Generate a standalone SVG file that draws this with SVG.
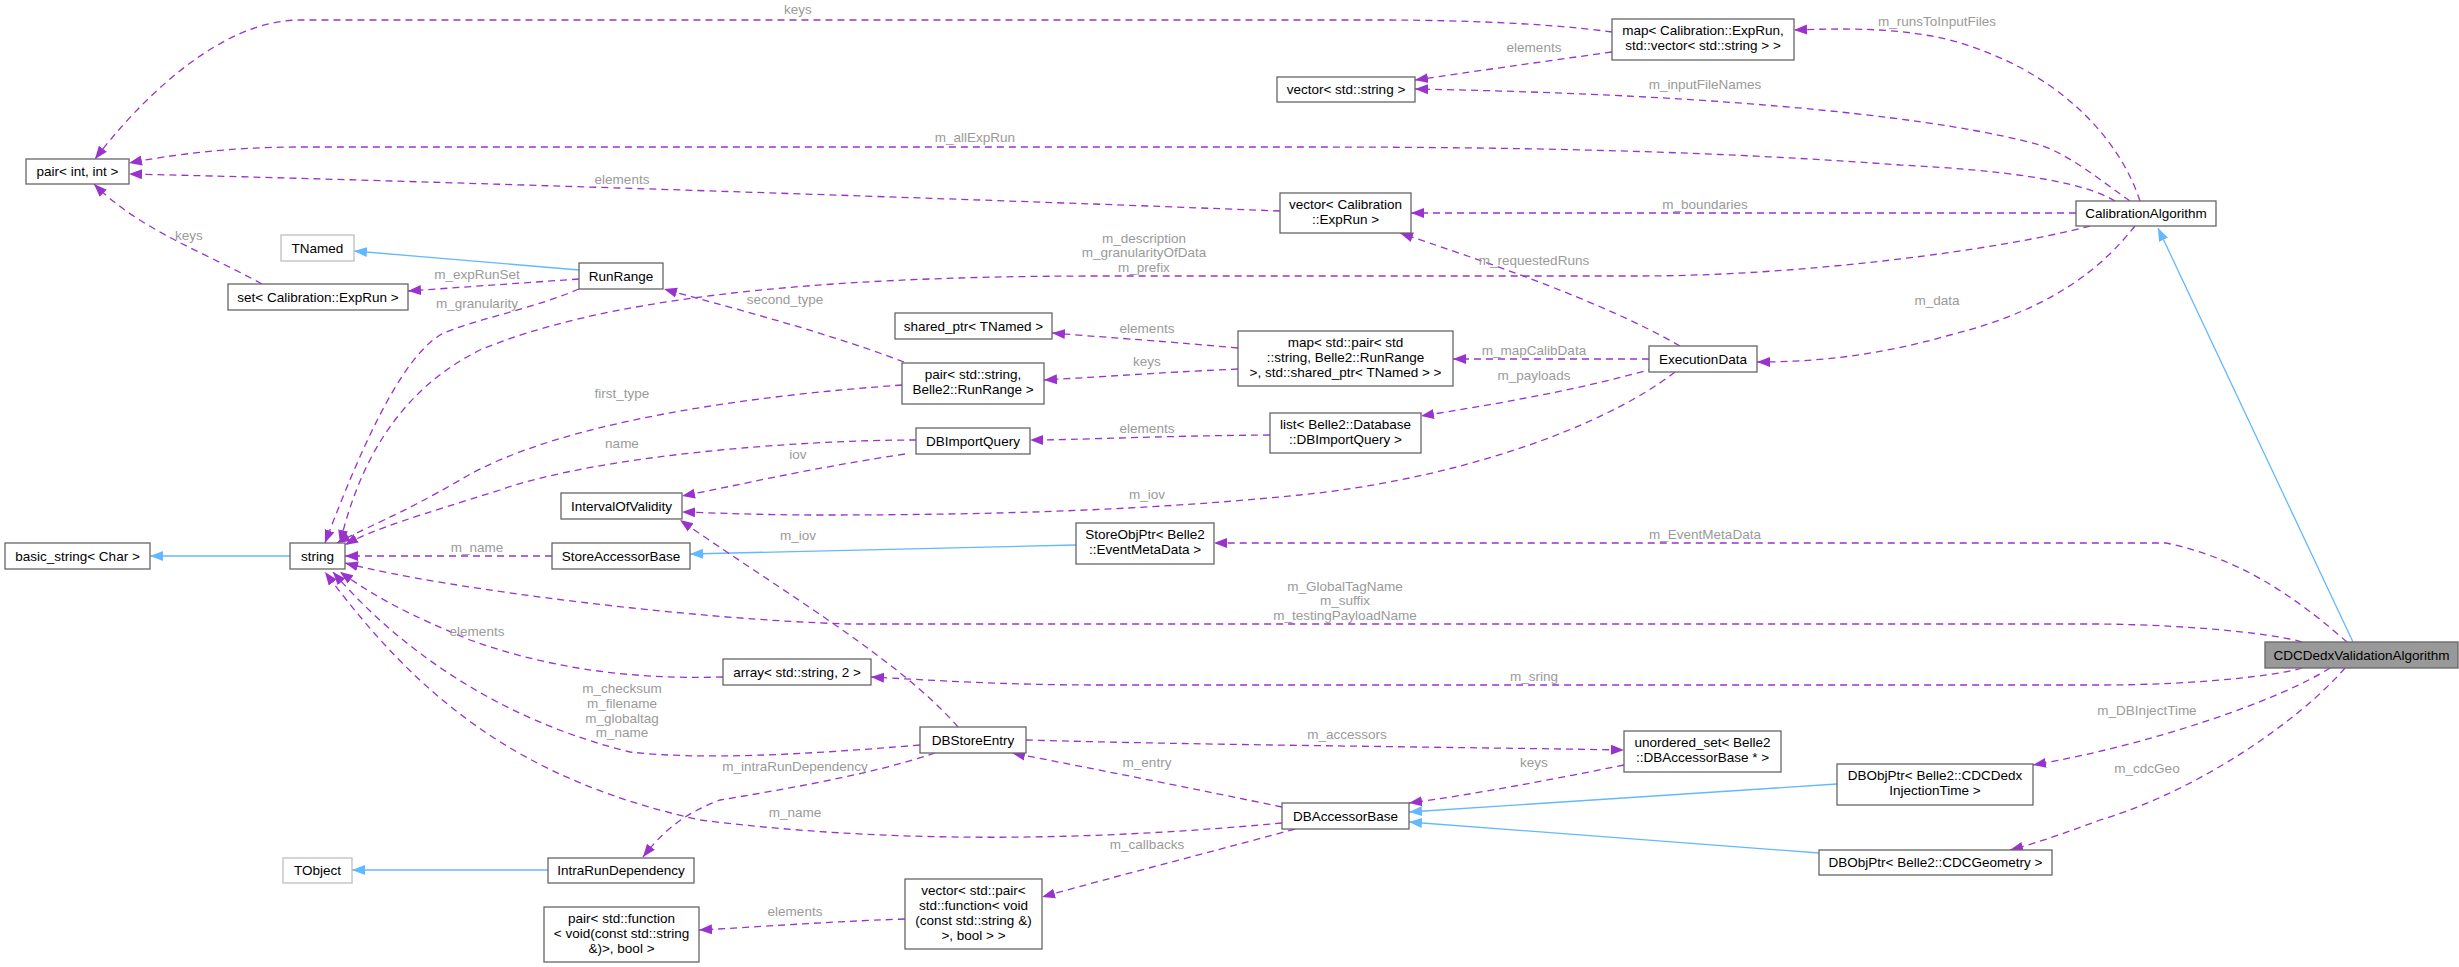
<svg xmlns="http://www.w3.org/2000/svg" width="2459" height="967" viewBox="0 0 2459 967">
<style>
.n rect{fill:#fff;stroke:#666;stroke-width:1.3}
.g rect{fill:#fff;stroke:#bfbfbf;stroke-width:1.3}
.h rect{fill:#999;stroke:#666;stroke-width:1.3}
text{font-family:"Liberation Sans",Arial,sans-serif;font-size:13.5px;fill:#000;text-anchor:middle}
.e path.d{fill:none;stroke:#9a32cd;stroke-width:1.3;stroke-dasharray:7,5;marker-end:url(#p)}
.e path.b{fill:none;stroke:#63b8ff;stroke-width:1.3;marker-end:url(#b)}
.e text{fill:#9a9a9a}
</style>
<defs>
<marker id="p" markerWidth="14" markerHeight="12" refX="13" refY="6" orient="auto" markerUnits="userSpaceOnUse"><path d="M0,1 L13,6 L0,11 Z" fill="#9a32cd"/></marker>
<marker id="b" markerWidth="14" markerHeight="12" refX="13" refY="6" orient="auto" markerUnits="userSpaceOnUse"><path d="M0,1 L13,6 L0,11 Z" fill="#63b8ff"/></marker>
</defs>
<rect width="2459" height="967" fill="#fff"/>
<g class="e" id="edges">
<path class="d" d="M1612,32 C1540,22 1440,20 1380,20 L300,20 C220,20 140,100 95,159"/><text x="798" y="14">keys</text>
<path class="d" d="M1612,52 C1540,62 1470,72 1415,80"/><text x="1534" y="52">elements</text>
<path class="d" d="M2140,201 C2120,140 2060,70 1950,40 C1900,28 1850,28 1794,30"/><text x="1937" y="26">m_runsToInputFiles</text>
<path class="d" d="M2130,201 C2100,180 2070,155 2040,145 C1950,120 1750,95 1415,89"/><text x="1705" y="89">m_inputFileNames</text>
<path class="d" d="M2115,201 C2080,180 2000,170 1900,165 C1700,150 1500,147 1300,147 L300,147 C230,147 170,155 129,163"/><text x="975" y="142">m_allExpRun</text>
<path class="d" d="M1280,211 C1000,200 400,180 129,174"/><text x="622" y="184">elements</text>
<path class="d" d="M2076,213 L1411,213"/><text x="1705" y="209">m_boundaries</text>
<path class="d" d="M2090,226 C2000,250 1800,276 1640,276 L1100,276 C800,276 600,300 480,350 C400,390 360,460 340,543"/><text x="1144" y="243">m_description</text><text x="1144" y="257">m_granularityOfData</text><text x="1144" y="272">m_prefix</text>
<path class="d" d="M2135,226 C2100,270 2050,310 1950,335 C1880,355 1820,362 1757,362"/><text x="1937" y="305">m_data</text>
<path class="d" d="M1680,346 C1600,300 1480,260 1400,233"/><text x="1534" y="265">m_requestedRuns</text>
<path class="d" d="M1649,359 L1453,359"/><text x="1534" y="355">m_mapCalibData</text>
<path class="d" d="M1655,368 C1580,390 1490,405 1421,416"/><text x="1534" y="380">m_payloads</text>
<path class="d" d="M1675,372 C1600,430 1450,480 1300,495 C1150,510 1000,515 820,515 C760,515 720,513 682,512"/><text x="1147" y="499">m_iov</text>
<path class="d" d="M1238,348 C1150,340 1100,337 1052,333"/><text x="1147" y="333">elements</text>
<path class="d" d="M1238,369 C1150,373 1100,377 1044,380"/><text x="1147" y="366">keys</text>
<path class="d" d="M904,362 C820,330 720,305 664,289"/><text x="785" y="304">second_type</text>
<path class="d" d="M902,385 C760,395 560,420 460,480 C400,515 360,530 337,543"/><text x="622" y="398">first_type</text>
<path class="b" d="M579,270 L354,251"/>
<path class="d" d="M579,279 L408,291"/><text x="477" y="279">m_expRunSet</text>
<path class="d" d="M579,289 C530,310 470,320 440,335 C400,360 360,450 325,543"/><text x="477" y="308">m_granularity</text>
<path class="d" d="M262,284 C200,250 140,230 94,184"/><text x="189" y="240">keys</text>
<path class="d" d="M1270,435 C1150,436 1080,440 1030,440"/><text x="1147" y="433">elements</text>
<path class="d" d="M916,440 C800,440 600,455 500,490 C420,515 370,530 345,545"/><text x="622" y="448">name</text>
<path class="d" d="M905,454 C800,470 740,485 682,496"/><text x="798" y="459">iov</text>
<path class="b" d="M1076,545 L690,554"/>
<path class="d" d="M552,556 L345,556"/><text x="477" y="552">m_name</text>
<path class="b" d="M290,556 L150,556"/>
<path class="d" d="M2347,642 C2310,610 2250,560 2166,543 C2140,543 2100,543 2000,543 L1214,543"/><text x="1705" y="539">m_EventMetaData</text>
<path class="d" d="M2302,642 C2280,635 2200,625 2100,624 L850,624 C700,620 450,590 345,563"/><text x="1345" y="591">m_GlobalTagName</text><text x="1345" y="605">m_suffix</text><text x="1345" y="620">m_testingPayloadName</text>
<path class="d" d="M2302,668 C2280,675 2200,685 2100,685 L1100,685 C1000,685 930,680 871,677"/><text x="1534" y="681">m_sring</text>
<path class="d" d="M2330,668 C2280,700 2150,745 2033,765"/><text x="2147" y="715">m_DBInjectTime</text>
<path class="d" d="M2345,668 C2300,720 2200,790 2100,820 C2060,835 2030,845 2010,850"/><text x="2147" y="773">m_cdcGeo</text>
<path class="b" d="M2353,642 L2158,228"/>
<path class="b" d="M1837,784 L1409,812"/>
<path class="b" d="M1819,853 L1409,822"/>
<path class="d" d="M1624,765 C1550,780 1470,795 1409,803"/><text x="1534" y="767">keys</text>
<path class="d" d="M1026,740 C1200,745 1450,747 1624,750"/><text x="1347" y="739">m_accessors</text>
<path class="d" d="M1282,807 C1200,790 1100,770 1012,753"/><text x="1147" y="767">m_entry</text>
<path class="d" d="M1295,829 C1200,855 1120,875 1042,897"/><text x="1147" y="849">m_callbacks</text>
<path class="d" d="M905,919 C820,922 760,927 699,930"/><text x="795" y="916">elements</text>
<path class="d" d="M1282,823 C1100,840 900,845 700,820 C520,780 420,700 325,572"/><text x="795" y="817">m_name</text>
<path class="d" d="M920,745 C800,755 700,760 630,752 C500,720 400,650 333,572"/><text x="622" y="693">m_checksum</text><text x="622" y="708">m_filename</text><text x="622" y="723">m_globaltag</text><text x="622" y="737">m_name</text>
<path class="d" d="M723,677 C620,680 540,665 470,640 C410,615 380,600 340,572"/><text x="477" y="636">elements</text>
<path class="d" d="M958,727 C900,660 780,590 680,520"/><text x="798" y="540">m_iov</text>
<path class="d" d="M935,753 C870,775 780,790 720,800 C680,815 660,835 643,857"/><text x="795" y="771">m_intraRunDependency</text>
<path class="b" d="M548,870 L352,870"/>
</g>
<g class="n" id="pairInt"><rect x="26" y="159" width="103" height="25"/><text x="77.5" y="176">pair&lt; int, int &gt;</text></g>
<g class="g" id="tnamed"><rect x="281" y="235" width="73" height="26"/><text x="317.5" y="253">TNamed</text></g>
<g class="n" id="runrange"><rect x="579" y="263" width="84" height="26"/><text x="621" y="281">RunRange</text></g>
<g class="n" id="setExpRun"><rect x="228" y="284" width="180" height="26"/><text x="318" y="302">set&lt; Calibration::ExpRun &gt;</text></g>
<g class="n" id="mapExpRun"><rect x="1612" y="19" width="182" height="41"/><text x="1703" y="35">map&lt; Calibration::ExpRun,</text><text x="1703" y="50">std::vector&lt; std::string &gt; &gt;</text></g>
<g class="n" id="vecString"><rect x="1277" y="77" width="138" height="25"/><text x="1346" y="94">vector&lt; std::string &gt;</text></g>
<g class="n" id="vecExpRun"><rect x="1280" y="193" width="131" height="40"/><text x="1345.5" y="209">vector&lt; Calibration</text><text x="1345.5" y="224">::ExpRun &gt;</text></g>
<g class="n" id="sharedPtr"><rect x="895" y="313" width="157" height="26"/><text x="973.5" y="331">shared_ptr&lt; TNamed &gt;</text></g>
<g class="n" id="pairStrRR"><rect x="902" y="363" width="142" height="41"/><text x="973" y="379">pair&lt; std::string,</text><text x="973" y="394">Belle2::RunRange &gt;</text></g>
<g class="n" id="mapPair"><rect x="1238" y="331" width="215" height="55"/><text x="1345.5" y="347">map&lt; std::pair&lt; std</text><text x="1345.5" y="362">::string, Belle2::RunRange</text><text x="1345.5" y="377">&gt;, std::shared_ptr&lt; TNamed &gt; &gt;</text></g>
<g class="n" id="dbImportQuery"><rect x="916" y="428" width="114" height="26"/><text x="973" y="446">DBImportQuery</text></g>
<g class="n" id="listDBIQ"><rect x="1270" y="413" width="151" height="40"/><text x="1345.5" y="429">list&lt; Belle2::Database</text><text x="1345.5" y="444">::DBImportQuery &gt;</text></g>
<g class="n" id="calibAlg"><rect x="2076" y="201" width="140" height="25"/><text x="2146" y="218">CalibrationAlgorithm</text></g>
<g class="n" id="execData"><rect x="1649" y="346" width="108" height="26"/><text x="1703" y="364">ExecutionData</text></g>
<g class="h" id="cdcDedxVal"><rect x="2265" y="642" width="193" height="26"/><text x="2361.5" y="660">CDCDedxValidationAlgorithm</text></g>
<g class="n" id="unorderedSet"><rect x="1624" y="731" width="157" height="41"/><text x="1702.5" y="747">unordered_set&lt; Belle2</text><text x="1702.5" y="762">::DBAccessorBase * &gt;</text></g>
<g class="n" id="dbObjInj"><rect x="1837" y="764" width="196" height="41"/><text x="1935" y="780">DBObjPtr&lt; Belle2::CDCDedx</text><text x="1935" y="795">InjectionTime &gt;</text></g>
<g class="n" id="dbObjGeo"><rect x="1819" y="850" width="233" height="25"/><text x="1935.5" y="867">DBObjPtr&lt; Belle2::CDCGeometry &gt;</text></g>
<g class="n" id="basicString"><rect x="5" y="543" width="145" height="26"/><text x="77.5" y="561">basic_string&lt; Char &gt;</text></g>
<g class="n" id="string"><rect x="290" y="543" width="55" height="26"/><text x="317.5" y="561">string</text></g>
<g class="n" id="iov"><rect x="561" y="493" width="121" height="26"/><text x="621.5" y="511">IntervalOfValidity</text></g>
<g class="n" id="storeAccBase"><rect x="552" y="543" width="138" height="26"/><text x="621" y="561">StoreAccessorBase</text></g>
<g class="n" id="arrayStr"><rect x="723" y="659" width="148" height="26"/><text x="797" y="677">array&lt; std::string, 2 &gt;</text></g>
<g class="g" id="tobject"><rect x="283" y="858" width="69" height="25"/><text x="317.5" y="875">TObject</text></g>
<g class="n" id="intraRun"><rect x="548" y="858" width="146" height="25"/><text x="621" y="875">IntraRunDependency</text></g>
<g class="n" id="pairFunc"><rect x="544" y="907" width="155" height="55"/><text x="621.5" y="923">pair&lt; std::function</text><text x="621.5" y="938">&lt; void(const std::string</text><text x="621.5" y="953">&amp;)&gt;, bool &gt;</text></g>
<g class="n" id="storeObjPtr"><rect x="1076" y="523" width="138" height="41"/><text x="1145" y="539">StoreObjPtr&lt; Belle2</text><text x="1145" y="554">::EventMetaData &gt;</text></g>
<g class="n" id="dbStoreEntry"><rect x="920" y="727" width="106" height="26"/><text x="973" y="745">DBStoreEntry</text></g>
<g class="n" id="dbAccBase"><rect x="1282" y="803" width="127" height="26"/><text x="1345.5" y="821">DBAccessorBase</text></g>
<g class="n" id="vecPairFunc"><rect x="905" y="879" width="137" height="70"/><text x="973.5" y="895">vector&lt; std::pair&lt;</text><text x="973.5" y="910">std::function&lt; void</text><text x="973.5" y="925">(const std::string &amp;)</text><text x="973.5" y="940">&gt;, bool &gt; &gt;</text></g>
</svg>
